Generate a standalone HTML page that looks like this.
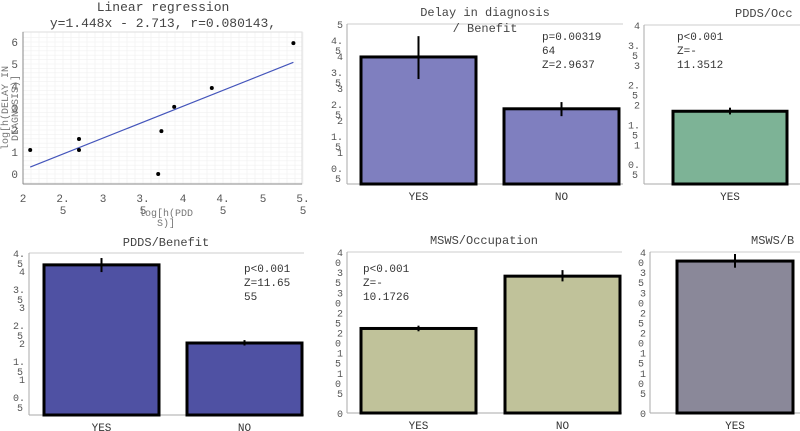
<!DOCTYPE html>
<html><head><meta charset="utf-8"><style>
body{margin:0;background:#fff;width:800px;height:431px;overflow:hidden}
svg{display:block;font-family:"Liberation Mono",monospace}
</style></head><body>
<svg id="fig" width="800" height="431" viewBox="0 0 800 431"></svg>
<script>
// Scatter data
const scatterX=[2.09,2.70,2.70,3.69,3.73,3.89,4.36,5.38];
const scatterY=[1.09,1.59,1.09,0.0,1.95,3.05,3.91,5.95];
const regSlope=1.448, regIntercept=-2.713;
const scatterXTicks=[2,2.5,3,3.5,4,4.5,5,5.5];
const scatterYTicks=[0,1,2,3,4,5,6];
// Bar panel data
const delayCats=["YES","NO"], delayVals=[3.97,2.35], delayErrLo=[3.28,2.12], delayErrHi=[4.62,2.56];
const pddsOccCats=["YES"], pddsOccVals=[1.83], pddsOccErrLo=[1.75], pddsOccErrHi=[1.92];
const pddsBenCats=["YES","NO"], pddsBenVals=[4.17,2.0], pddsBenErrLo=[3.97,1.93], pddsBenErrHi=[4.36,2.08];
const mswsOccCats=["YES","NO"], mswsOccVals=[21,34], mswsOccErrLo=[20.3,32.7], mswsOccErrHi=[21.7,35.5];
const mswsBenCats=["YES"], mswsBenVals=[37.75], mswsBenErrLo=[36.1,], mswsBenErrHi=[39.5];

const S=document.getElementById('fig');
const NS="http://www.w3.org/2000/svg";
function mk(t,a,p){const e=document.createElementNS(NS,t);for(const k in a)e.setAttribute(k,a[k]);(p||S).appendChild(e);return e;}
function txt(x,y,s,size,anchor,fill,p){const e=mk('text',{x:x,y:y,'font-size':size,'text-anchor':anchor||'start',fill:fill||'#333'},p);e.textContent=s;return e;}

// ---- scatter ----
(function(){
  const g=mk('g',{});
  
  
  const L=23,R=302,T=32,B=184;
  const sx=v=>L+(v-2)*80, sy=v=>174-v*22;
  for(let v=2;v<=5.5001;v+=0.1){mk('line',{x1:sx(v),x2:sx(v),y1:T,y2:B,stroke:'#f0f0f0','stroke-width':0.6},g);}
  for(let v=-0.4;v<=6.4;v+=0.2){mk('line',{x1:L,x2:R,y1:sy(v),y2:sy(v),stroke:'#f0f0f0','stroke-width':0.6},g);}
  mk('rect',{x:L,y:T,width:R-L,height:B-T,fill:'none',stroke:'#ddd'},g);
  mk('line',{x1:L,x2:R,y1:B,y2:B,stroke:'#888'},g);
  mk('line',{x1:L,x2:L,y1:T,y2:B,stroke:'#888'},g);
  scatterXTicks.forEach(v=>{
    const s=String(v);const x=sx(v);
    const t=txt(x,202,s.indexOf('.')>=0?s.split('.')[0]+'.':s,11,'middle','#555',g);
    
    if(s.indexOf('.')>=0)txt(x,214,s.split('.')[1],11,'middle','#555',g);
  });
  scatterYTicks.forEach(v=>{
    const t=txt(L-5,sy(v)+4,String(v),11,'end','#555',g);
    
  });
  const x0=Math.min(...scatterX),x1=Math.max(...scatterX);
  const ln=mk('line',{x1:sx(x0),y1:sy(regSlope*x0+regIntercept),x2:sx(x1),y2:sy(regSlope*x1+regIntercept),stroke:'#4455bb','stroke-width':1.2},g);
  
  scatterX.forEach((v,i)=>{const c=mk('circle',{cx:sx(v),cy:sy(scatterY[i]),r:2,fill:'#000'},g);
    });
  const t1=txt(163,11,'Linear regression',13,'middle','#444',g);
  txt(163,27,'y=1.448x - 2.713, r=0.080143,',13,'middle','#444',g);
  const xl=txt(166,216,'log[h(PDD',10,'middle','#777',g);
  txt(166,226,'S)]',10,'middle','#777',g);
  const yl=mk('g',{transform:'translate(8,108) rotate(-90)'},g);
  const yt=txt(0,0,'log[h(DELAY IN',10,'middle','#777',yl);
  txt(0,10,'DIAGNOSIS)]',10,'middle','#777',yl);
})();

// ---- bar panels ----
function barPanel(o,cats,vals,lo,hi){
  const g=mk('g',{});
  
  
  const sy=v=>o.B-(v/o.max)*(o.B-o.top);
  mk('line',{x1:o.L,x2:o.R,y1:o.top-(o.extra||0),y2:o.top-(o.extra||0),stroke:'#ccc'},g);
  mk('line',{x1:o.L,x2:o.R,y1:o.B,y2:o.B,stroke:'#aaa'},g);
  mk('line',{x1:o.L,x2:o.L,y1:o.top-(o.extra||0),y2:o.B,stroke:'#aaa'},g);
  o.ticks.forEach(v=>{
    const y=sy(v);const s=String(v);
    let a,b;
    if(o.split==='dot'&&s.indexOf('.')>=0){a=s.split('.')[0]+'.';b=s.split('.')[1];}
    else if(o.split==='digit'&&s.length>1){a=s[0];b=s.slice(1);}
    else {a=s;b=null;}
    const t=txt(o.L-4,y+4,a,10,'end','#555',g);
    if(b)txt(o.L-6,y+14,b,10,'end','#555',g);
  });
  cats.forEach((c,i)=>{
    const x=o.bx[i], w=o.bw;
    const r=mk('rect',{x:x,y:sy(vals[i]),width:w,height:o.B-sy(vals[i]),fill:o.color,stroke:'#000','stroke-width':3},g);
    
    const e=mk('line',{x1:x+w/2,x2:x+w/2,y1:sy(lo[i]),y2:sy(hi[i]),stroke:'#000','stroke-width':2},g);
    
    const t=txt(x+w/2,o.B+16,c,11,'middle','#333',g);
  });
  o.title.forEach((s,i)=>{const t=txt(o.tx,o.ty+i*16,s,12,o.ta||'middle','#444',g);if(i==0){}});
  o.note.forEach((s,i)=>{const t=txt(o.nx,o.ny+i*14,s,11,'start','#333',g);if(i==0){}});
}
barPanel({name:'delay-benefit-panel',L:347,R:623,top:24,B:184,max:5,ticks:[0.5,1,1.5,2,2.5,3,3.5,4,4.5,5],split:'dot',
  color:'#7f7fbf',bx:[361,504],bw:115,title:['Delay in diagnosis','/ Benefit'],tx:485,ty:16,note:['p=0.00319','64','Z=2.9637'],nx:542,ny:40},
  delayCats,delayVals,delayErrLo,delayErrHi);
barPanel({name:'pdds-occupation-panel',L:644,R:800,top:25,B:184,max:4,ticks:[0.5,1,1.5,2,2.5,3,3.5,4],split:'dot',
  color:'#7db396',bx:[673],bw:114,title:['PDDS/Occ'],tx:735,ty:17,ta:'start',note:['p<0.001','Z=-','11.3512'],nx:677,ny:40},
  pddsOccCats,pddsOccVals,pddsOccErrLo,pddsOccErrHi);
barPanel({name:'pdds-benefit-panel',L:29,R:304,top:253,B:415,max:4.5,ticks:[0.5,1,1.5,2,2.5,3,3.5,4,4.5],split:'dot',
  color:'#4f51a3',bx:[44,187],bw:115,title:['PDDS/Benefit'],tx:166,ty:246,note:['p<0.001','Z=11.65','55'],nx:244,ny:272},
  pddsBenCats,pddsBenVals,pddsBenErrLo,pddsBenErrHi);
barPanel({name:'msws-occupation-panel',L:347,R:622,top:252,B:413,max:40,ticks:[0,5,10,15,20,25,30,35,40],split:'digit',
  color:'#c0c29a',bx:[361,505],bw:115,title:['MSWS/Occupation'],tx:484,ty:244,note:['p<0.001','Z=-','10.1726'],nx:363,ny:272},
  mswsOccCats,mswsOccVals,mswsOccErrLo,mswsOccErrHi);
barPanel({name:'msws-benefit-panel',L:650,R:800,top:252,B:413,max:40,ticks:[0,5,10,15,20,25,30,35,40],split:'digit',
  color:'#8a8899',bx:[677],bw:116,title:['MSWS/B'],tx:751,ty:244,ta:'start',note:[],nx:0,ny:0},
  mswsBenCats,mswsBenVals,mswsBenErrLo,mswsBenErrHi);
</script>
</body></html>
